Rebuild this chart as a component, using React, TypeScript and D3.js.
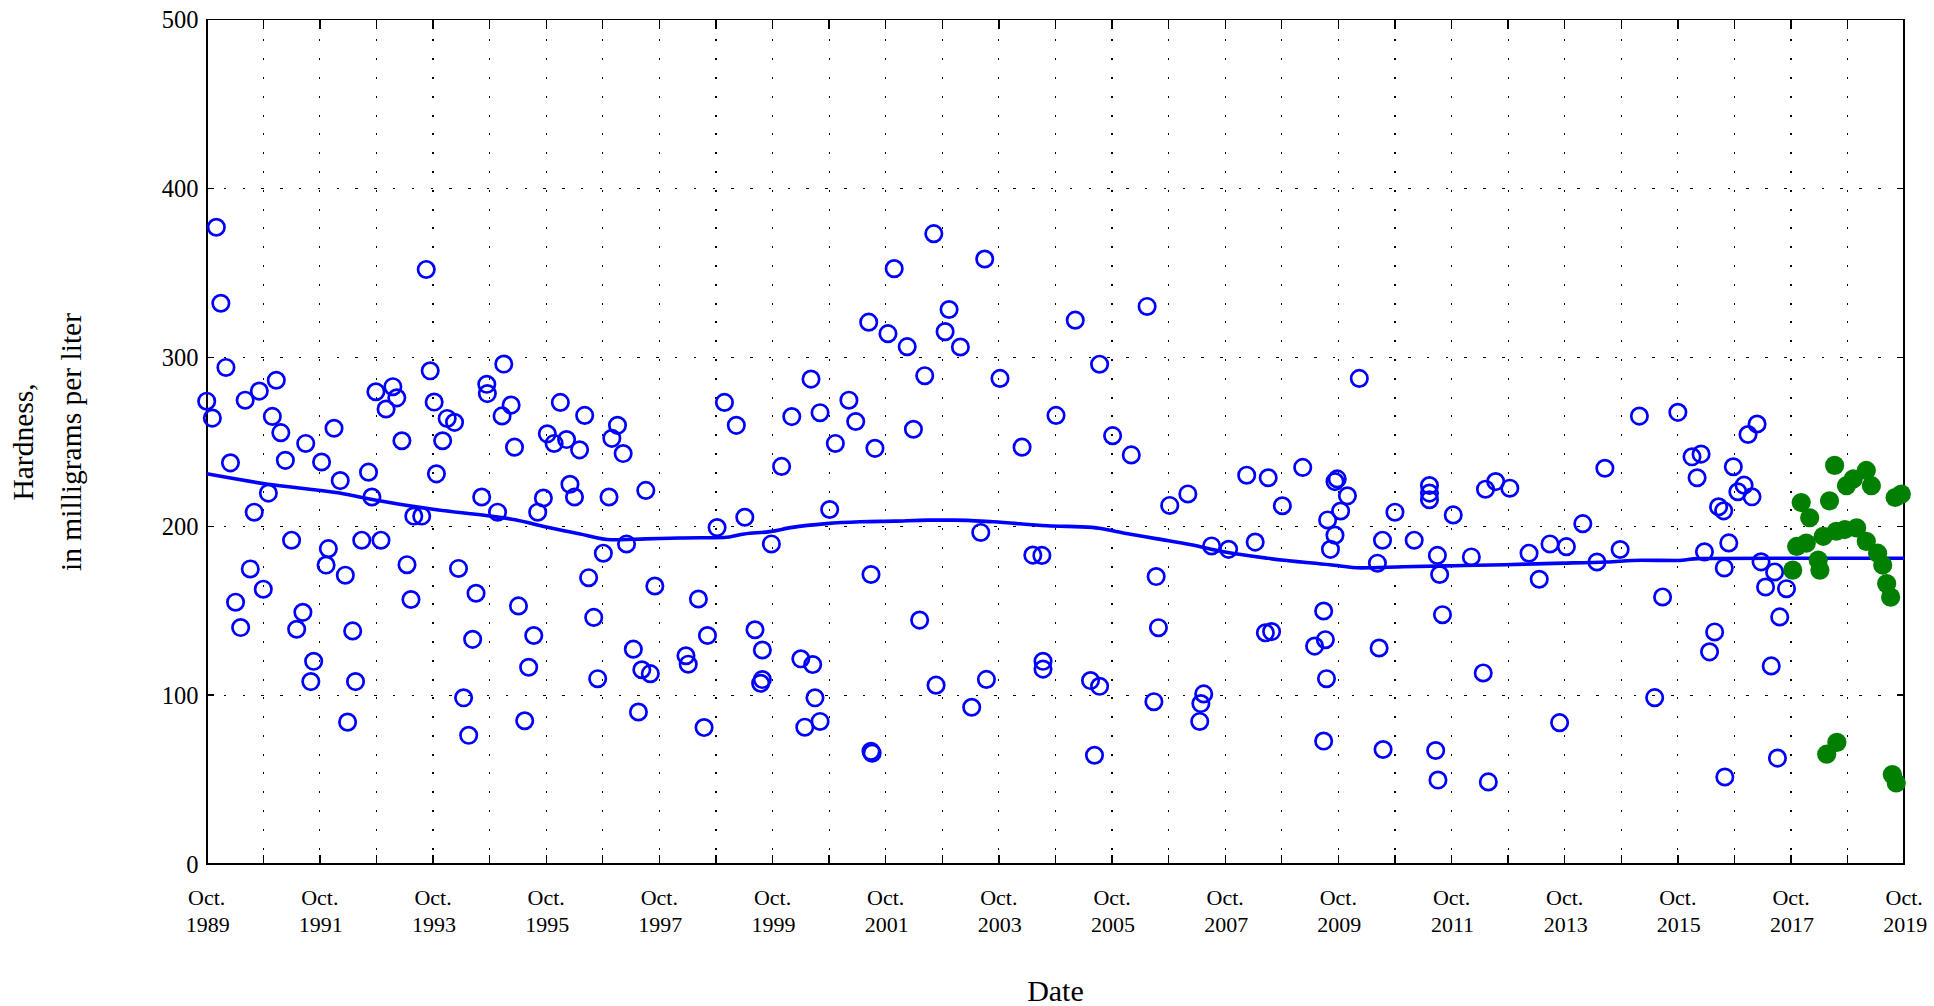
import React from "react";
import * as d3 from "d3";

// Historical samples: [decimal year, hardness mg/L]
const historicalSamples: [number, number][] = [
  [1989.92,377],[1990.00,332],[1990.09,294],[1989.75,274],[1989.85,264],[1990.17,237.5],[1990.84,219.6],[1990.59,208.3],[1990.43,274.6],[1990.68,280],[1990.98,286.4],[1990.91,265],[1991.06,255.4],[1991.14,239],[1991.50,249],[1991.78,238],[1992.00,258],[1992.11,227],[1991.25,191.7],[1990.52,174.7],[1990.75,162.7],[1990.26,155],[1990.35,140],[1991.90,186.7],[1991.86,177],[1992.20,171],[1991.45,149],[1991.34,139],[1991.64,120],[1991.59,108],[1992.33,138],[1992.38,108],[1992.24,84],[1992.49,191.7],[1992.83,191.7],[1992.61,232],[1992.67,217.3],[1992.74,279.6],[1993.04,282.6],[1993.11,276],[1992.92,269.4],[1993.20,250.6],[1993.41,206],[1993.55,206],[1993.29,177.2],[1993.36,156.6],[1993.63,352],[1993.70,292],[1993.77,273.5],[1994.00,263.8],[1994.13,261.5],[1993.92,250.6],[1993.81,231],[1994.20,175],[1994.51,160.3],[1994.45,133],[1994.29,98.4],[1994.38,76.2],[1994.61,217.3],[1994.70,284],[1994.71,278.5],
  [1995.00,296],[1995.13,271.7],[1994.97,265.3],[1995.19,246.8],[1996.00,273.3],[1995.77,254.7],[1995.89,249],[1996.11,251.3],[1996.34,245.2],[1996.43,265.6],[1997.01,259.7],[1996.91,252],[1997.11,243],[1996.17,224.8],[1996.25,217.3],[1995.70,216.7],[1995.60,208.3],[1994.89,208.3],[1996.86,217.3],[1997.51,221.2],[1996.76,184],[1997.17,189.5],[1996.50,169.5],[1997.67,164.6],[1995.26,152.8],[1995.53,135.3],[1996.59,146],[1995.44,116.5],[1996.66,109.7],[1997.29,127.2],[1997.44,115],[1997.59,112.7],[1997.38,90],[1995.37,84.8],[1998.44,156.9],[1998.60,135.3],[1998.22,123.3],[1998.26,118.3],[1998.54,80.8],[1998.77,199.2],[1999.26,205.3],[1998.90,273.3],[1999.11,259.7],[1999.44,138.7],[1999.57,126.7],[1999.54,107],[1999.57,109.2],[1999.73,189.5],
  [1999.91,235.4],[2000.09,264.9],[2000.43,287.1],[2000.59,267.2],[2000.86,249],[2000.76,209.9],[2001.10,274.6],[2001.22,262],[2001.56,246.1],[2001.45,320.8],[2001.79,314],[2002.13,306.3],[2001.90,352.5],[2002.44,289.1],[2002.24,257.4],[2002.60,373.2],[2002.87,328.3],[2002.80,315.2],[2003.07,306.1],[2003.50,358.2],[2003.77,287.5],[2004.16,246.8],[2004.76,265.6],[2001.49,171.4],[2003.43,196.3],[2004.35,182.9],[2004.51,182.7],[2002.35,144.4],[2000.25,121.5],[2000.46,118.1],[2000.50,98.4],[2000.32,81],[2000.59,84.4],[2001.49,66.7],[2001.51,65.6],[2002.64,105.9],[2003.53,109.3],[2003.27,92.8],[2004.53,120],[2004.53,115.4],
  [2005.10,322],[2006.37,330.1],[2005.53,295.9],[2005.76,253.6],[2006.09,242.2],[2006.77,212.3],[2007.09,219.1],[2008.13,230.2],[2008.51,228.7],[2009.12,234.8],[2008.76,212.1],[2007.51,188.3],[2007.81,186.3],[2008.28,190.6],[2006.53,170.2],[2006.57,139.9],[2008.46,136.9],[2008.57,137.6],[2005.37,108.6],[2005.53,105.2],[2006.49,96.1],[2007.37,100.7],[2007.32,95],[2007.30,84.4],[2005.44,64.4],[2009.33,129],
  [2009.69,226.4],[2009.73,228],[2009.91,218],[2009.79,209],[2009.56,203.7],[2009.69,194.7],[2009.61,186.3],[2009.49,149.8],[2009.52,132.8],[2009.54,109.7],[2009.49,72.8],[2010.12,287.5],[2010.75,208.3],[2010.53,191.7],[2010.44,178.1],[2010.47,127.9],[2010.54,67.8],[2011.09,191.7],[2011.36,224.1],[2011.36,219.6],[2011.36,215.7],[2011.78,206.7],[2011.50,182.7],[2011.54,171.4],[2011.59,147.6],[2011.47,67.2],[2011.51,49.7],[2012.10,181.8],[2012.35,221.9],[2012.53,226.4],[2012.78,222.5],[2012.31,113.1],[2012.40,48.6],[2013.12,184],[2013.30,168.6],[2013.49,189.5],[2013.78,187.9],[2013.66,83.7],[2014.07,201.5],[2014.32,178.8],[2014.46,234.3],
  [2015.07,265.2],[2015.75,267.4],[2016.00,241.1],[2016.16,242.7],[2016.09,228.7],[2017.15,260.5],[2016.99,254.3],[2016.73,235.2],[2016.92,224.3],[2016.81,220.4],[2017.06,217.4],[2016.47,211.5],[2016.56,209.1],[2016.65,190.1],[2016.22,184.8],[2014.73,186.2],[2016.57,175.3],[2017.22,178.9],[2017.46,172.9],[2017.30,164],[2017.67,163],[2015.48,158.1],
  [2015.34,98.5],[2016.40,137.4],[2016.31,125.6],[2017.55,146.3],[2017.40,117.3],[2017.51,62.7],[2016.58,51.5],
];

// Recent samples (filled green)
const recentSamples: [number, number][] = [
  [2017.78,174],[2017.85,188],[2017.93,214],[2018.02,190],[2018.08,205],[2018.23,180],[2018.26,174],[2018.32,194],[2018.38,65],[2018.43,215],[2018.55,197],[2018.52,236],[2018.56,72],[2018.70,198],[2018.73,224],[2018.85,228],[2018.91,199],[2019.08,191],[2019.08,233],[2019.17,224],[2019.28,184],[2019.37,177],[2019.44,166],[2019.51,158],[2019.54,53],[2019.59,217],[2019.61,48],[2019.70,219],
];

// Smoothed trend line
const trendLine: [number, number][] = [
  [1989.75,231],[1990.8,225],[1992.1,219.6],[1992.7,215.7],[1993.75,210],[1994.75,206],[1995.2,203.8],[1995.75,199.5],[1996.35,195.4],[1996.9,192],[1997.5,192.5],[1998.1,193],[1998.9,193.3],[1999.25,195.4],[1999.7,196.8],[2000.1,199.3],[2000.7,201.5],[2001.3,202.6],[2001.9,203],[2002.5,203.6],[2002.95,203.6],[2003.65,202.6],[2004.6,200.3],[2005.4,199.3],[2005.95,196],[2006.55,192.5],[2007.15,189],[2007.7,185],[2008.5,181],[2009.6,177.2],[2010.15,175.3],[2010.9,176],[2011.8,176.6],[2012.7,177.2],[2013.55,178],[2014.5,178.8],[2015.1,179.8],[2015.75,179.7],[2016.1,180.8],[2017.5,181],[2019.75,181],
];

const yTickValues = [0, 100, 200, 300, 400, 500];
const xLabelYears = [1989, 1991, 1993, 1995, 1997, 1999, 2001, 2003, 2005, 2007, 2009, 2011, 2013, 2015, 2017, 2019];
const monthLabel = "Oct.";
const yTitleLines = ["Hardness,", "in milligrams per liter"];
const xTitle = "Date";

export default function App() {
  const W = 1934, H = 1006;
  const left = 206.7, right = 1904.2, top = 19.5, bottom = 864;
  const x = d3.scaleLinear().domain([1989.75, 2019.75]).range([left, right]);
  const y = d3.scaleLinear().domain([0, 500]).range([bottom, top]);
  const line = d3.line<[number, number]>().x(d => x(d[0])).y(d => y(d[1])).curve(d3.curveMonotoneX);
  const yearTicks = d3.range(1990.75, 2019.5, 1);
  const allYearTicks = d3.range(1989.75, 2019.8, 1);
  const font = "Liberation Serif, Times New Roman, serif";

  return (
    <svg width={W} height={H} style={{ position: "absolute", left: 0, top: 0, background: "#fff" }} fontFamily={font}>
      <rect x={0} y={0} width={W} height={H} fill="#fff" />
      {/* grid */}
      <g stroke="#000" strokeWidth={1.2} shapeRendering="crispEdges">
        {yearTicks.map(t => (
          <line key={"vg" + t} x1={x(t)} x2={x(t)} y1={top} y2={bottom} strokeDasharray="2 16.8" strokeDashoffset={-1} />
        ))}
        {yTickValues.slice(1, -1).map(v => (
          <line key={"hg" + v} x1={left} x2={right} y1={y(v)} y2={y(v)} strokeDasharray="2.5 16.3" strokeDashoffset={-17} />
        ))}
      </g>
      {/* ticks */}
      <g stroke="#000" strokeWidth={1.3} shapeRendering="crispEdges">
        {allYearTicks.map(t => (
          <g key={"xt" + t}>
            <line x1={x(t)} x2={x(t)} y1={bottom} y2={bottom - 9} />
            <line x1={x(t)} x2={x(t)} y1={top} y2={top + 9} />
          </g>
        ))}
        {yTickValues.map(v => (
          <g key={"yt" + v}>
            <line x1={left} x2={left + 7} y1={y(v)} y2={y(v)} />
            <line x1={right} x2={right - 7} y1={y(v)} y2={y(v)} />
          </g>
        ))}
      </g>
      <rect x={left} y={top} width={right - left} height={bottom - top} fill="none" stroke="#000" strokeWidth={1.6} shapeRendering="crispEdges" />
      {/* historical samples */}
      <g fill="none" stroke="#0000ff" strokeWidth={2.7}>
        {historicalSamples.map((d, i) => (
          <circle key={"h" + i} cx={x(d[0])} cy={y(d[1])} r={8.2} />
        ))}
      </g>
      <path d={line(trendLine) || ""} fill="none" stroke="#0000ff" strokeWidth={3.6} strokeLinejoin="round" />
      <g fill="#007f00">
        {recentSamples.map((d, i) => (
          <circle key={"r" + i} cx={x(d[0])} cy={y(d[1])} r={9.6} />
        ))}
      </g>
      {/* y tick labels */}
      <g fontSize={24.5} textAnchor="end" fill="#000" fontFamily={font}>
        {yTickValues.map(v => (
          <text key={"yl" + v} x={198.5} y={y(v) + 8.5}>{v}</text>
        ))}
      </g>
      {/* x tick labels */}
      <g fontSize={22} textAnchor="middle" fill="#000" fontFamily={font}>
        {xLabelYears.map(yr => (
          <g key={"xl" + yr}>
            <text x={x(yr + 0.75)} y={905}>{monthLabel}</text>
            <text x={x(yr + 0.75) + 1} y={932}>{yr}</text>
          </g>
        ))}
      </g>
      {/* titles */}
      <g fontSize={29.5} textAnchor="middle" fill="#000" fontFamily={font}>
        <text transform={`translate(33,442) rotate(-90)`}>{yTitleLines[0]}</text>
        <text transform={`translate(81,442) rotate(-90)`}>{yTitleLines[1]}</text>
      </g>
      <text x={(left + right) / 2} y={1001} fontSize={30} textAnchor="middle" fill="#000" fontFamily={font}>{xTitle}</text>
    </svg>
  );
}
